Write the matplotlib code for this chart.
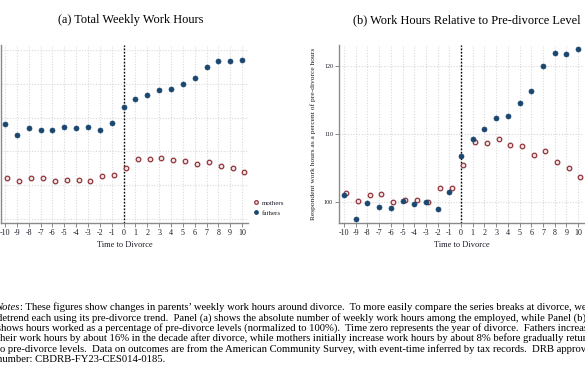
import matplotlib
matplotlib.use("Agg")
import matplotlib.pyplot as plt

plt.rcParams['font.family'] = ['Liberation Serif', 'DejaVu Serif']

# ---------------- data ----------------
time_to_divorce = list(range(-10, 11))
xtick_labels = [str(t) for t in time_to_divorce]

fathers_hours = [44.01, 42.42, 43.46, 43.21, 43.16, 43.61, 43.41, 43.56, 43.12, 44.20,
                 46.57, 47.70, 48.30, 49.03, 49.23, 50.01, 50.85, 52.53, 53.32, 53.32, 53.56]
mothers_hours = [36.11, 35.66, 36.02, 36.06, 35.66, 35.72, 35.72, 35.62, 36.40, 36.46,
                 37.59, 38.87, 38.87, 39.07, 38.73, 38.62, 38.13, 38.39, 37.84, 37.50, 37.00]

fathers_rel = [101.03, 97.54, 99.85, 99.26, 99.16, 100.15, 99.66, 100.0, 99.01, 101.43,
               106.80, 109.31, 110.69, 112.36, 112.71, 114.53, 116.40, 120.10, 121.92, 121.82, 122.51]
mothers_rel = [101.38, 100.10, 101.08, 101.18, 100.05, 100.25, 100.25, 100.0, 102.07, 102.12,
               105.42, 108.82, 108.77, 109.26, 108.42, 108.23, 106.90, 107.54, 105.91, 105.07, 103.74]

hours_yticks = [30, 35, 40, 45, 50, 55]
rel_yticks = [100, 110, 120]
mother_offset = 0.2

notes_lines = [
    ("Notes", ": These figures show changes in parents\u2019 weekly work hours around divorce.  To more easily compare the series breaks at divorce, we"),
    ("", "detrend each using its pre-divorce trend.  Panel (a) shows the absolute number of weekly work hours among the employed, while Panel (b)"),
    ("", "shows hours worked as a percentage of pre-divorce levels (normalized to 100%).  Time zero represents the year of divorce.  Fathers increase"),
    ("", "their work hours by about 16% in the decade after divorce, while mothers initially increase work hours by about 8% before gradually returning"),
    ("", "to pre-divorce levels.  Data on outcomes are from the American Community Survey, with event-time inferred by tax records.  DRB approval"),
    ("", "number: CBDRB-FY23-CES014-0185."),
]

# ---------------- style ----------------
W, H = 585, 385
NAVY = '#1A476F'
MAROON = '#90353B'
SPINE = '#8a8a8a'
GRID = '#d9d9d9'
TXT = '#1c1c2a'

fig = plt.figure(figsize=(W / 100, H / 100), dpi=100)
fig.patch.set_facecolor('white')

def fx(px):
    return px / W

def fy(py):
    return 1 - py / H

def style_axes(ax, yticks, show_ylabels, ytick_size):
    for s in ['top', 'right']:
        ax.spines[s].set_visible(False)
    for s in ['left', 'bottom']:
        ax.spines[s].set_color(SPINE)
        ax.spines[s].set_linewidth(1.0)
    ax.set_xticks(time_to_divorce)
    ax.set_xticklabels(xtick_labels)
    ax.set_yticks(yticks)
    if show_ylabels:
        ax.set_yticklabels([str(v) for v in yticks])
        ax.tick_params(axis='y', length=3, width=0.7, color=SPINE, labelsize=ytick_size,
                       labelcolor=TXT, pad=1.5)
    else:
        ax.set_yticklabels([])
        ax.tick_params(axis='y', length=0)
    ax.tick_params(axis='x', length=3, width=0.7, color=SPINE, labelsize=5.8,
                   labelcolor=TXT, pad=1.5)
    ax.grid(True, color=GRID, linestyle=(0, (1, 1.5)), linewidth=0.8)
    ax.set_axisbelow(True)
    ax.axvline(0, color='black', linestyle=(0, (1.2, 1.2)), linewidth=1.0, zorder=1)
    ax.set_xlabel('Time to Divorce', fontsize=6, color=TXT, labelpad=3)

def draw_series(ax, fathers, mothers):
    xm = [t + mother_offset for t in time_to_divorce]
    ax.plot(xm, mothers, linestyle='none', marker='o', markersize=3.3,
            markerfacecolor='#f4e4e4', markeredgecolor=MAROON, markeredgewidth=0.9,
            label='mothers', zorder=3)
    ax.plot(time_to_divorce, fathers, linestyle='none', marker='o', markersize=3.6,
            markerfacecolor=NAVY, markeredgecolor=NAVY, markeredgewidth=0.5,
            label='fathers', zorder=3)

# ---- panel (a) ----
axa = fig.add_axes([fx(1), fy(222.7), fx(248) - fx(1), fy(44.7) - fy(222.7)])
draw_series(axa, fathers_hours, mothers_hours)
style_axes(axa, hours_yticks, False, 5)
axa.set_xlim(-10.34, 10.5)
axa.set_ylim(29.45, 55.78)
fig.text(fx(130.5), fy(20.5), '(a) Total Weekly Work Hours', ha='center', va='center',
         fontsize=8.9, color='black')
leg = axa.legend(loc='upper left', bbox_to_anchor=(fx(254), fy(200)),
                 bbox_transform=fig.transFigure, frameon=False, fontsize=5,
                 handlelength=0.6, handletextpad=0.5, labelspacing=0.55,
                 borderpad=0, borderaxespad=0, markerscale=0.8)
for t in leg.get_texts():
    t.set_color(TXT)

# ---- panel (b) ----
axb = fig.add_axes([fx(339.3), fy(222.7), fx(584) - fx(339.3), fy(44.7) - fy(222.7)])
draw_series(axb, fathers_rel, mothers_rel)
style_axes(axb, rel_yticks, True, 4.3)
axb.set_xlim(-10.4, 10.5)
axb.set_ylim(96.94, 123.2)
axb.set_ylabel('Respondent work hours as a percent of pre-divorce hours', fontsize=5.4,
               color=TXT, labelpad=5.5)
fig.text(fx(466.5), fy(20.5), '(b) Work Hours Relative to Pre-divorce Level', ha='center',
         va='center', fontsize=8.9, color='black')

# ---- notes ----
NOTE_FS = 7.7
line_y = [307, 317.6, 328, 338.6, 349, 359.6]
for (ital, rest), yy in zip(notes_lines, line_y):
    x0 = fx(-3)
    if ital:
        t = fig.text(fx(-4.5), fy(yy), ital, fontsize=NOTE_FS, style='italic', ha='left',
                     va='center', color='black')
        fig.canvas.draw()
        bb = t.get_window_extent()
        x0 = bb.x1 / W
    fig.text(x0, fy(yy), rest, fontsize=NOTE_FS, ha='left', va='center', color='black')

fig.savefig('out.png', dpi=100)
